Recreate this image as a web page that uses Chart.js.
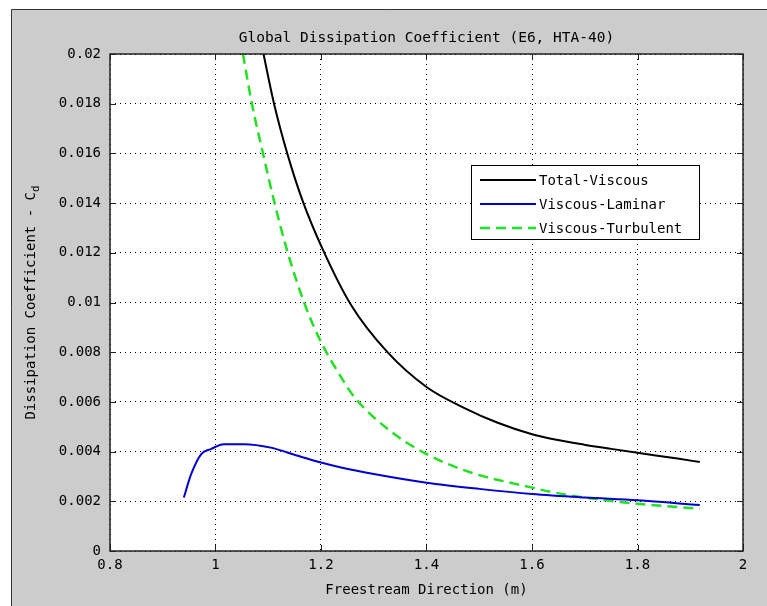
<!DOCTYPE html>
<html>
<head>
<meta charset="utf-8">
<script src="https://cdn.jsdelivr.net/npm/chart.js@4.4.0/dist/chart.umd.min.js"></script>
<style>
  html, body { margin: 0; padding: 0; background: #fff; }
</style>
</head>
<body>
<canvas id="cd-chart" width="767" height="606"></canvas>
<script>
const FONT = "'DejaVu Sans Mono', 'Liberation Mono', monospace";

const titleText = "Global Dissipation Coefficient (E6, HTA-40)";
const xTitle = "Freestream Direction (m)";
const yTitle = "Dissipation Coefficient - C";
const yTitleSub = "d";

const seriesLabels = ["Total-Viscous", "Viscous-Laminar", "Viscous-Turbulent"];

// total viscous dissipation
const totalX = [1.091, 1.111, 1.136, 1.165, 1.202, 1.257, 1.326, 1.400, 1.472, 1.535, 1.600, 1.636, 1.699, 1.750, 1.800, 1.876, 1.918];
const totalY = [0.0200, 0.0180, 0.0160, 0.0141, 0.0122, 0.0099, 0.0080, 0.00660, 0.00575, 0.00516, 0.00470, 0.00452, 0.00428, 0.00411, 0.00395, 0.00372, 0.00358];

// laminar part
const laminarX = [0.940, 0.954, 0.973, 0.991, 1.016, 1.054, 1.105, 1.156, 1.200, 1.238, 1.300, 1.400, 1.500, 1.600, 1.700, 1.800, 1.918];
const laminarY = [0.00215, 0.00310, 0.00390, 0.00410, 0.00430, 0.00430, 0.00416, 0.00383, 0.00356, 0.00336, 0.00310, 0.00275, 0.00250, 0.00229, 0.00215, 0.00204, 0.00185];

// turbulent part
const turbX = [1.052, 1.069, 1.090, 1.112, 1.137, 1.168, 1.198, 1.238, 1.263, 1.327, 1.400, 1.484, 1.600, 1.636, 1.700, 1.800, 1.918];
const turbY = [0.0200, 0.0180, 0.0160, 0.0140, 0.0120, 0.0100, 0.0085, 0.0070, 0.0062, 0.0049, 0.0039, 0.00316, 0.00255, 0.00238, 0.00215, 0.00190, 0.00170];

const xTicks = [0.8, 1, 1.2, 1.4, 1.6, 1.8, 2];
const yTicks = [0, 0.002, 0.004, 0.006, 0.008, 0.01, 0.012, 0.014, 0.016, 0.018, 0.02];

function toPoints(xs, ys) {
  return xs.map((x, i) => ({ x: x, y: ys[i] }));
}

// gray figure panel, frame, inward ticks, title, y label, legend
const figurePlugin = {
  id: "figure",
  beforeDraw(chart) {
    const ctx = chart.ctx;
    const a = chart.chartArea;
    ctx.save();
    ctx.fillStyle = "#fff";
    ctx.fillRect(0, 0, chart.width, chart.height);
    ctx.fillStyle = "#cccccc";
    ctx.fillRect(11, 9, chart.width - 11, chart.height - 9);
    ctx.strokeStyle = "#333";
    ctx.lineWidth = 1;
    ctx.beginPath();
    ctx.moveTo(11.5, chart.height);
    ctx.lineTo(11.5, 9.5);
    ctx.lineTo(chart.width, 9.5);
    ctx.stroke();
    ctx.fillStyle = "#fff";
    ctx.fillRect(a.left, a.top, a.right - a.left, a.bottom - a.top);
    ctx.restore();
  },
  afterDraw(chart) {
    const ctx = chart.ctx;
    const a = chart.chartArea;
    const xs = chart.scales.x;
    const ys = chart.scales.y;
    ctx.save();

    // inward tick marks
    ctx.strokeStyle = "#222";
    ctx.lineWidth = 1;
    ctx.beginPath();
    xTicks.forEach((v) => {
      const px = Math.round(xs.getPixelForValue(v)) + 0.5;
      ctx.moveTo(px, a.bottom);
      ctx.lineTo(px, a.bottom - 6);
      ctx.moveTo(px, a.top);
      ctx.lineTo(px, a.top + 6);
    });
    yTicks.forEach((v) => {
      const py = Math.round(ys.getPixelForValue(v)) + 0.5;
      ctx.moveTo(a.left, py);
      ctx.lineTo(a.left + 6, py);
      ctx.moveTo(a.right, py);
      ctx.lineTo(a.right - 6, py);
    });
    ctx.stroke();

    // axes box
    ctx.strokeStyle = "#222";
    ctx.lineWidth = 1.5;
    ctx.strokeRect(a.left, a.top, a.right - a.left, a.bottom - a.top);

    // title and x label
    ctx.fillStyle = "#000";
    ctx.font = "14.5px " + FONT;
    ctx.textAlign = "center";
    ctx.textBaseline = "middle";
    const cx = (a.left + a.right) / 2;
    ctx.fillText(titleText, cx, 38);
    ctx.font = "14px " + FONT;
    ctx.fillText(xTitle, cx, 590);

    // y label with subscript
    ctx.translate(31, (a.top + a.bottom) / 2);
    ctx.rotate(-Math.PI / 2);
    ctx.font = "14px " + FONT;
    const w1 = ctx.measureText(yTitle).width;
    ctx.font = "11px " + FONT;
    const w2 = ctx.measureText(yTitleSub).width;
    const start = -(w1 + w2) / 2;
    ctx.textAlign = "left";
    ctx.font = "14px " + FONT;
    ctx.fillText(yTitle, start, 0);
    ctx.font = "11px " + FONT;
    ctx.fillText(yTitleSub, start + w1, 5);
    ctx.setTransform(1, 0, 0, 1, 0, 0);

    // legend box
    const lx = 471, ly = 165, lw = 228, lh = 74;
    ctx.fillStyle = "#fff";
    ctx.fillRect(lx, ly, lw, lh);
    ctx.strokeStyle = "#000";
    ctx.lineWidth = 1;
    ctx.strokeRect(lx + 0.5, ly + 0.5, lw, lh);
    ctx.font = "14px " + FONT;
    ctx.textAlign = "left";
    ctx.textBaseline = "middle";
    chart.data.datasets.forEach((ds, i) => {
      const ry = ly + 15 + i * 24;
      ctx.strokeStyle = ds.borderColor;
      ctx.lineWidth = ds.borderWidth;
      ctx.setLineDash(ds.borderDash || []);
      ctx.beginPath();
      ctx.moveTo(480, ry);
      ctx.lineTo(536, ry);
      ctx.stroke();
      ctx.setLineDash([]);
      ctx.fillStyle = "#000";
      ctx.fillText(ds.label, 539, ry + 1);
    });
    ctx.restore();
  },
};

const gridStyle = {
  color: "#000",
  lineWidth: 1,
  drawTicks: false,
};

new Chart(document.getElementById("cd-chart"), {
  type: "line",
  data: {
    datasets: [
      {
        label: seriesLabels[0],
        data: toPoints(totalX, totalY),
        borderColor: "#000000",
        borderWidth: 2,
      },
      {
        label: seriesLabels[1],
        data: toPoints(laminarX, laminarY),
        borderColor: "#0000d0",
        borderWidth: 2,
      },
      {
        label: seriesLabels[2],
        data: toPoints(turbX, turbY),
        borderColor: "#22e022",
        borderWidth: 2.5,
        borderDash: [10, 6],
      },
    ],
  },
  options: {
    responsive: false,
    animation: false,
    devicePixelRatio: 1,
    cubicInterpolationMode: "monotone",
    elements: {
      point: { radius: 0 },
    },
    layout: {
      padding: { left: 10, right: 24, top: 54, bottom: 0 },
    },
    plugins: {
      legend: { display: false },
      title: { display: false },
      tooltip: { enabled: false },
    },
    scales: {
      x: {
        type: "linear",
        min: 0.8,
        max: 2,
        afterFit: (s) => { s.height = 55; },
        afterBuildTicks: (s) => { s.ticks = xTicks.map((v) => ({ value: v })); },
        grid: { ...gridStyle },
        border: { display: false, dash: [1, 4] },
        ticks: {
          padding: 6,
          color: "#000",
          font: { family: FONT, size: 14 },
          callback: (v) => parseFloat(v.toFixed(1)).toString(),
        },
      },
      y: {
        type: "linear",
        min: 0,
        max: 0.02,
        afterFit: (s) => { s.width = 100; },
        afterBuildTicks: (s) => { s.ticks = yTicks.map((v) => ({ value: v })); },
        grid: { ...gridStyle },
        border: { display: false, dash: [1, 4] },
        ticks: {
          padding: 9,
          color: "#000",
          font: { family: FONT, size: 14 },
          callback: (v) => parseFloat(v.toFixed(3)).toString(),
        },
      },
    },
  },
  plugins: [figurePlugin],
});
</script>
</body>
</html>
